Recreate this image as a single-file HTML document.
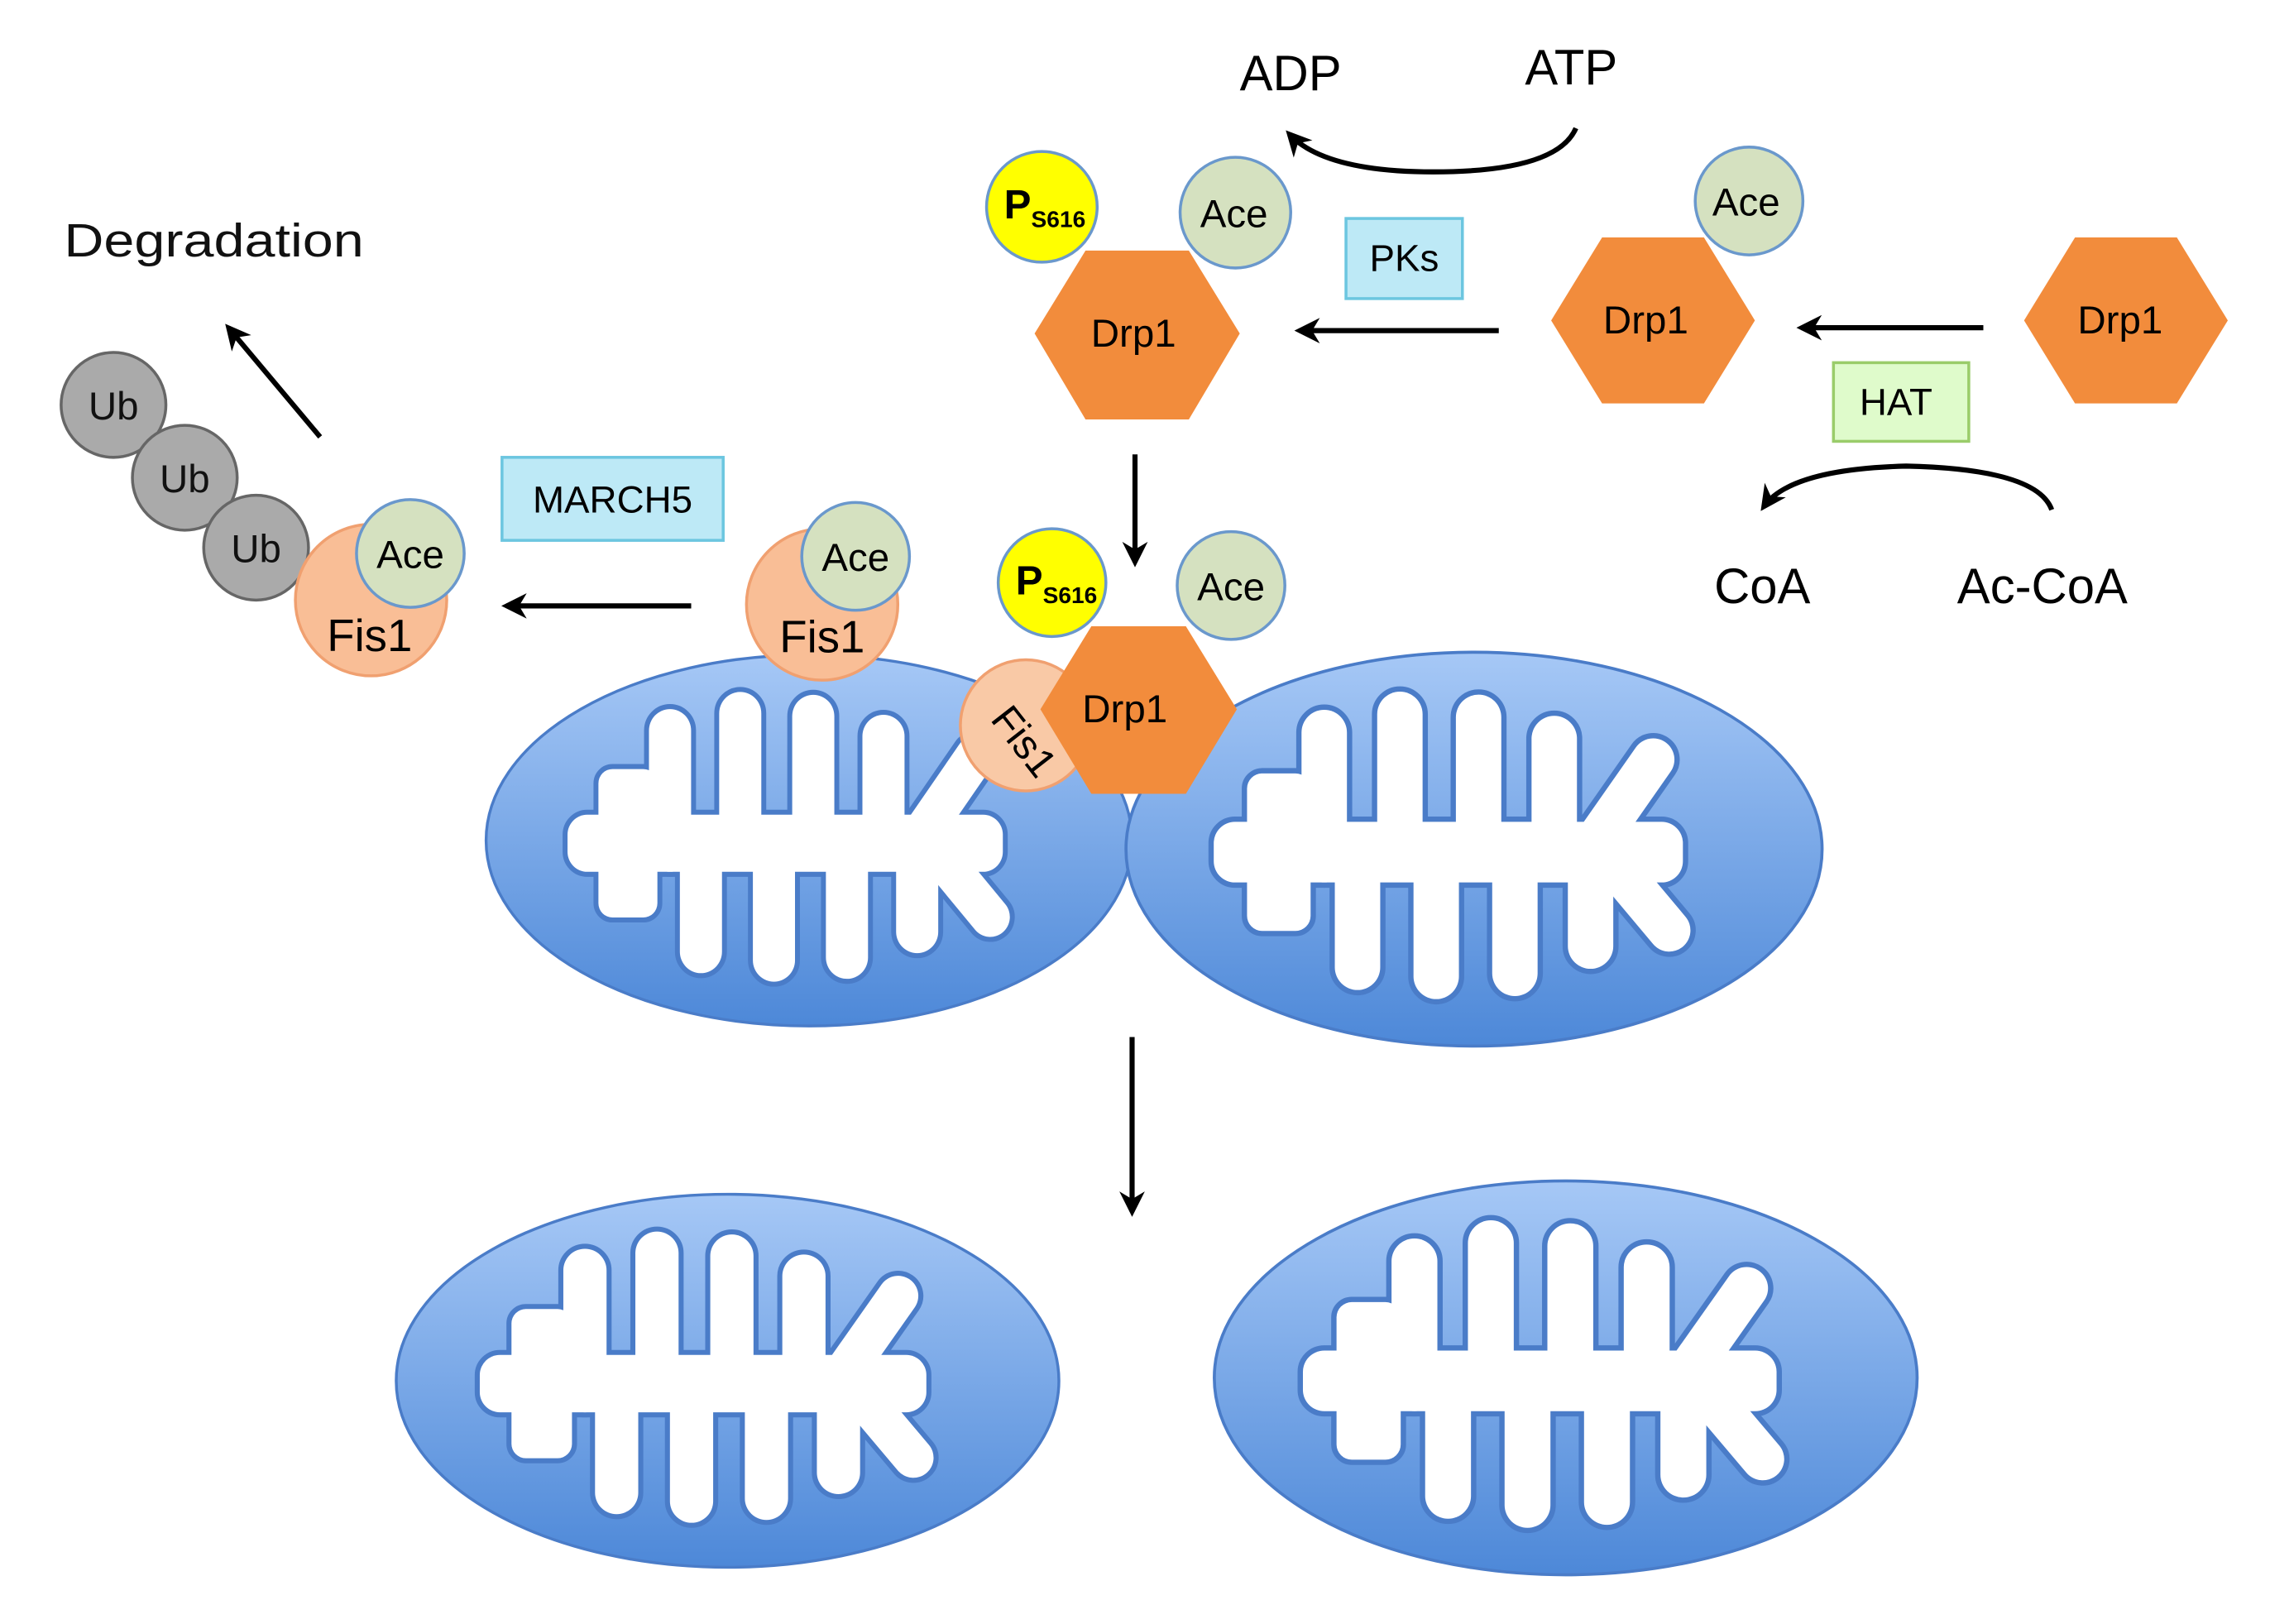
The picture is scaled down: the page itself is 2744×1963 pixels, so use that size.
<!DOCTYPE html>
<html><head><meta charset="utf-8"><style>
html,body{margin:0;padding:0;background:#fff}
svg{display:block}
text{font-family:"Liberation Sans",sans-serif}
</style></head><body>
<svg width="2744" height="1963" viewBox="0 0 1560 1115" preserveAspectRatio="none" xmlns="http://www.w3.org/2000/svg">
<defs>
<linearGradient id="mg" x1="0" y1="0" x2="0" y2="1">
<stop offset="0" stop-color="#a6c8f6"/><stop offset="1" stop-color="#4d88d8"/>
</linearGradient>
<marker id="ah" viewBox="0 0 10 10" refX="8" refY="5" markerWidth="5" markerHeight="5" orient="auto">
<path d="M0,0 L10,5 L0,10 L3,5 z" fill="#000"/></marker>
<g id="cr">
<rect x="-172" y="-18" width="310" height="40" rx="14"/>
<rect x="-150" y="-50" width="42" height="104" rx="10"/>
<rect x="-114" y="-92" width="30" height="114" rx="15"/>
<rect x="-64" y="-104" width="30" height="124" rx="15"/>
<rect x="-12" y="-102" width="30" height="122" rx="15"/>
<rect x="38" y="-88" width="30" height="108" rx="15"/>
<rect x="-92" y="-5" width="30" height="98" rx="15"/>
<rect x="-40" y="-5" width="30" height="104" rx="15"/>
<rect x="12" y="-5" width="30" height="102" rx="15"/>
<rect x="62" y="-5" width="30" height="84" rx="15"/>
<rect x="70" y="-84" width="28" height="94" rx="14" transform="rotate(35 84 -10)"/>
<rect x="70" y="0" width="28" height="84" rx="14" transform="rotate(-40 84 0)"/>
</g>
<g id="mito">
<ellipse cx="0" cy="0" rx="230" ry="130" fill="url(#mg)" stroke="#4a7cc8" stroke-width="2"/>
<use href="#cr" fill="#4a7cc8" stroke="#4a7cc8" stroke-width="7"/>
<use href="#cr" fill="#fff"/>
</g>
</defs>

<use href="#mito" transform="translate(556,577) scale(0.965,0.98)"/>
<use href="#mito" transform="translate(1013,583) scale(1.04,1.04)"/>
<use href="#mito" transform="translate(500,948) scale(0.99,0.985)"/>
<use href="#mito" transform="translate(1076,946) scale(1.05,1.04)"/>

<text x="44" y="176" font-size="32" fill="#111" textLength="206" lengthAdjust="spacingAndGlyphs">Degradation</text>
<line x1="220" y1="300" x2="157" y2="225" stroke="#000" stroke-width="3.5" marker-end="url(#ah)"/>

<g stroke="#666" stroke-width="2" fill="#aaaaaa">
<circle cx="78" cy="278" r="36"/>
<circle cx="127" cy="328" r="36"/>
<circle cx="176" cy="376" r="36"/>
</g>
<g font-size="27" fill="#111" text-anchor="middle">
<text x="78" y="288">Ub</text><text x="127" y="338">Ub</text><text x="176" y="386">Ub</text>
</g>
<circle cx="255" cy="412" r="52" fill="#f9be96" stroke="#f0a070" stroke-width="2"/>
<circle cx="282" cy="380" r="37" fill="#d5e1c0" stroke="#6a98cc" stroke-width="2"/>
<text x="282" y="390" font-size="27" text-anchor="middle">Ace</text>
<text x="254" y="447" font-size="31" text-anchor="middle">Fis1</text>

<rect x="345" y="314" width="152" height="57" fill="#bde9f6" stroke="#6cc6e0" stroke-width="2"/>
<text x="421" y="352" font-size="26" text-anchor="middle">MARCH5</text>
<line x1="475" y1="416" x2="348" y2="416" stroke="#000" stroke-width="3.5" marker-end="url(#ah)"/>

<circle cx="565" cy="415" r="52" fill="#f9be96" stroke="#f0a070" stroke-width="2"/>
<circle cx="588" cy="382" r="37" fill="#d5e1c0" stroke="#6a98cc" stroke-width="2"/>
<text x="588" y="392" font-size="27" text-anchor="middle">Ace</text>
<text x="565" y="448" font-size="31" text-anchor="middle">Fis1</text>

<circle cx="705" cy="498" r="45" fill="#f9c9a6" stroke="#f0a070" stroke-width="2"/>
<polygon points="715,487 750,430 815,430 850,487 815,545 750,545" fill="#f28c3c"/>
<text x="773" y="496" font-size="27" text-anchor="middle">Drp1</text>
<text x="0" y="0" font-size="28" transform="translate(680,494) rotate(52)">Fis1</text>
<circle cx="723" cy="400" r="37" fill="#ffff00" stroke="#6a98cc" stroke-width="2"/>
<text x="698" y="408" font-size="28" font-weight="bold">P<tspan font-size="16" dy="6">S616</tspan></text>
<circle cx="846" cy="402" r="37" fill="#d5e1c0" stroke="#6a98cc" stroke-width="2"/>
<text x="846" y="412" font-size="27" text-anchor="middle">Ace</text>

<line x1="780" y1="312" x2="780" y2="386" stroke="#000" stroke-width="3.5" marker-end="url(#ah)"/>
<line x1="778" y1="712" x2="778" y2="832" stroke="#000" stroke-width="3.5" marker-end="url(#ah)"/>

<polygon points="711,229 746,172 817,172 852,229 817,288 746,288" fill="#f28c3c"/>
<text x="779" y="238" font-size="27" text-anchor="middle">Drp1</text>
<circle cx="716" cy="142" r="38" fill="#ffff00" stroke="#6a98cc" stroke-width="2"/>
<text x="690" y="150" font-size="28" font-weight="bold">P<tspan font-size="16" dy="6">S616</tspan></text>
<circle cx="849" cy="146" r="38" fill="#d5e1c0" stroke="#6a98cc" stroke-width="2"/>
<text x="848" y="156" font-size="27" text-anchor="middle">Ace</text>

<rect x="925" y="150" width="80" height="55" fill="#bde9f6" stroke="#6cc6e0" stroke-width="2"/>
<text x="965" y="186" font-size="26" text-anchor="middle">PKs</text>
<line x1="1030" y1="227" x2="893" y2="227" stroke="#000" stroke-width="3.5" marker-end="url(#ah)"/>

<polygon points="1066,220 1101,163 1171,163 1206,220 1171,277 1101,277" fill="#f28c3c"/>
<text x="1131" y="229" font-size="27" text-anchor="middle">Drp1</text>
<circle cx="1202" cy="138" r="37" fill="#d5e1c0" stroke="#6a98cc" stroke-width="2"/>
<text x="1200" y="148" font-size="27" text-anchor="middle">Ace</text>

<line x1="1363" y1="225" x2="1238" y2="225" stroke="#000" stroke-width="3.5" marker-end="url(#ah)"/>
<rect x="1260" y="249" width="93" height="54" fill="#dffbcb" stroke="#9acc6a" stroke-width="2"/>
<text x="1303" y="285" font-size="26" text-anchor="middle">HAT</text>

<polygon points="1391,220 1426,163 1496,163 1531,220 1496,277 1426,277" fill="#f28c3c"/>
<text x="1457" y="229" font-size="27" text-anchor="middle">Drp1</text>

<text x="852" y="62" font-size="34">ADP</text>
<text x="1048" y="58" font-size="34">ATP</text>
<path d="M1083,88 Q1070,118 985,118 Q910,118 886,92" fill="none" stroke="#000" stroke-width="3.5" marker-end="url(#ah)"/>

<path d="M1410,350 Q1400,322 1310,320 Q1230,322 1212,348" fill="none" stroke="#000" stroke-width="3.5" marker-end="url(#ah)"/>
<text x="1178" y="414" font-size="34">CoA</text>
<text x="1345" y="414" font-size="34">Ac-CoA</text>
</svg>
</body></html>
